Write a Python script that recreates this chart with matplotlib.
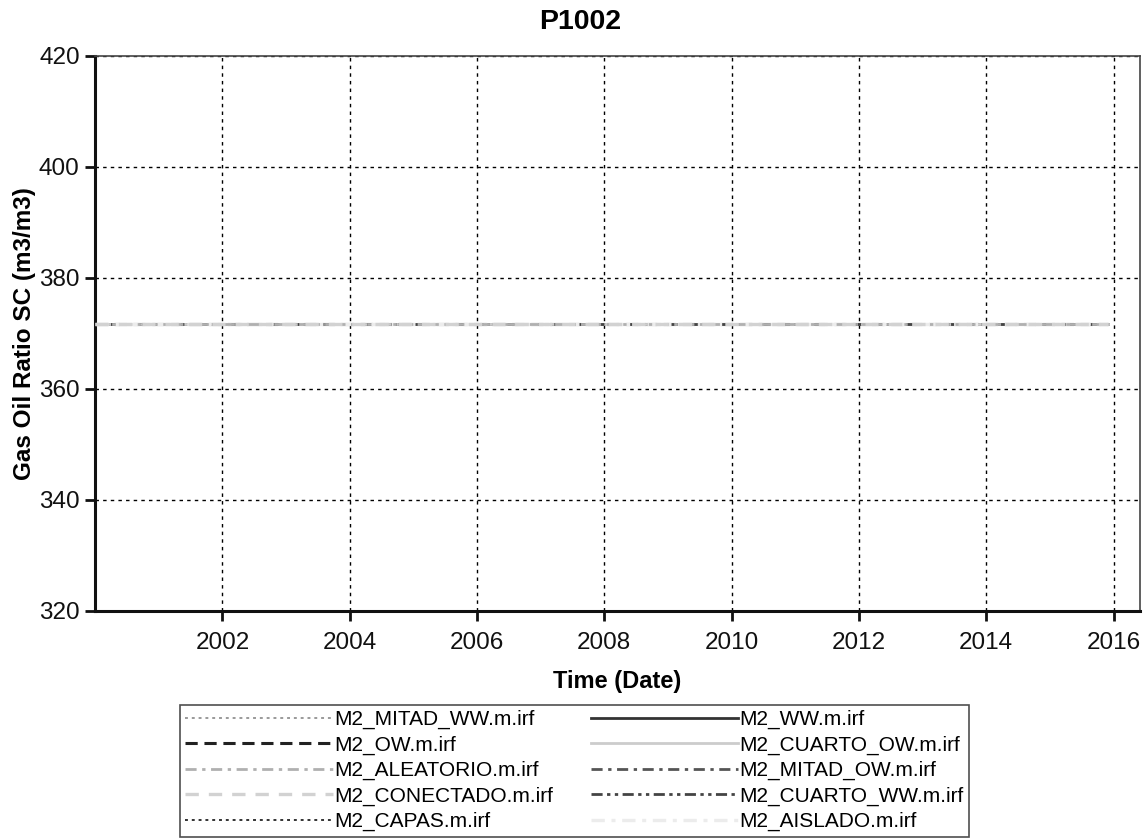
import matplotlib
matplotlib.use("Agg")
import matplotlib.pyplot as plt
import matplotlib.dates as mdates
import datetime as dt

plt.rcParams["font.family"] = ["Liberation Sans", "DejaVu Sans"]

# Simulation period and gas-oil ratio (m3/m3) for each model run
dates = [dt.datetime(2000, 1, 1), dt.datetime(2015, 12, 1)]
gor_mitad_ww = [371.7, 371.7]
gor_ow = [371.7, 371.7]
gor_aleatorio = [371.7, 371.7]
gor_conectado = [371.7, 371.7]
gor_capas = [371.7, 371.7]
gor_ww = [371.7, 371.7]
gor_cuarto_ow = [371.7, 371.7]
gor_mitad_ow = [371.7, 371.7]
gor_cuarto_ww = [371.7, 371.7]
gor_aislado = [371.7, 371.7]

year_ticks = [2002, 2004, 2006, 2008, 2010, 2012, 2014, 2016]
gor_ticks = [320, 340, 360, 380, 400, 420]

labels = ["M2_MITAD_WW.m.irf", "M2_OW.m.irf", "M2_ALEATORIO.m.irf",
          "M2_CONECTADO.m.irf", "M2_CAPAS.m.irf", "M2_WW.m.irf",
          "M2_CUARTO_OW.m.irf", "M2_MITAD_OW.m.irf", "M2_CUARTO_WW.m.irf",
          "M2_AISLADO.m.irf"]
series = [gor_mitad_ww, gor_ow, gor_aleatorio, gor_conectado, gor_capas,
          gor_ww, gor_cuarto_ow, gor_mitad_ow, gor_cuarto_ww, gor_aislado]
styles = [
    dict(color="#9a9a9a", lw=1.4, ls=(0, (1.5, 2.0)), zorder=2.3),
    dict(color="#222222", lw=2.2, ls=(0, (4.0, 2.2)), zorder=2.1),
    dict(color="#b0b0b0", lw=2.0, ls=(0, (4.0, 2.0, 1.2, 2.0)), zorder=2.8),
    dict(color="#d2d2d2", lw=2.4, ls=(0, (4.0, 3.0)), zorder=2.9),
    dict(color="#333333", lw=1.4, ls=(0, (1.5, 2.0)), zorder=2.2),
    dict(color="#333333", lw=2.0, ls="-", zorder=2.0),
    dict(color="#cccccc", lw=2.0, ls="-", zorder=2.4),
    dict(color="#555555", lw=2.0, ls=(0, (4.0, 2.0, 1.2, 2.0)), zorder=2.5),
    dict(color="#444444", lw=2.0, ls=(0, (4.0, 1.6, 1.2, 1.6, 1.2, 1.6)), zorder=2.6),
    dict(color="#ececec", lw=2.4, ls=(0, (4.0, 2.0, 1.2, 2.0)), zorder=2.7),
]

fig = plt.figure(figsize=(11.47, 8.38), dpi=100)
ax = fig.add_axes([0.0828, 0.2709, 0.9111, 0.6623])

handles = []
for lab, ys, st in zip(labels, series, styles):
    h, = ax.plot(dates, ys, label=lab, **st)
    handles.append(h)

ax.set_xlim(dt.datetime(2000, 1, 1), dt.datetime(2016, 6, 1))
ax.set_ylim(gor_ticks[0], gor_ticks[-1])
ax.set_yticks(gor_ticks)
ax.set_xticks([dt.datetime(y, 1, 1) for y in year_ticks])
ax.xaxis.set_major_formatter(mdates.DateFormatter("%Y"))

ax.grid(True, color="black", ls=(0, (2.5, 3.0)), lw=1.0)
ax.tick_params(axis="both", direction="out", length=7, width=2.0,
               labelsize=17.5, colors="#111111")
ax.tick_params(axis="x", pad=8)
ax.tick_params(axis="y", pad=4)

for side in ("left", "bottom"):
    ax.spines[side].set_linewidth(2.2)
    ax.spines[side].set_color("#111111")
for side in ("top", "right"):
    ax.spines[side].set_linewidth(1.2)
    ax.spines[side].set_color("#444444")

ax.set_ylabel("Gas Oil Ratio SC (m3/m3)", fontsize=17.5, fontweight="bold", labelpad=2)
ax.set_xlabel("Time (Date)", fontsize=17, fontweight="bold", labelpad=12)
fig.text(0.506, 0.974, "P1002", ha="center", va="center", fontsize=20.5, fontweight="bold")

leg = fig.legend(handles=handles, labels=labels, loc="upper left",
                 bbox_to_anchor=(180 / 1147, 1 - 705 / 838),
                 ncol=2, frameon=True, fancybox=False, edgecolor="#222222",
                 handlelength=7.1, handletextpad=0.05, columnspacing=1.8,
                 labelspacing=0.3, borderpad=0.25, borderaxespad=0.0,
                 prop={"family": ["Liberation Sans", "DejaVu Sans"], "size": 15})
leg.get_frame().set_linewidth(1.2)

fig.savefig("out.png", dpi=100)
